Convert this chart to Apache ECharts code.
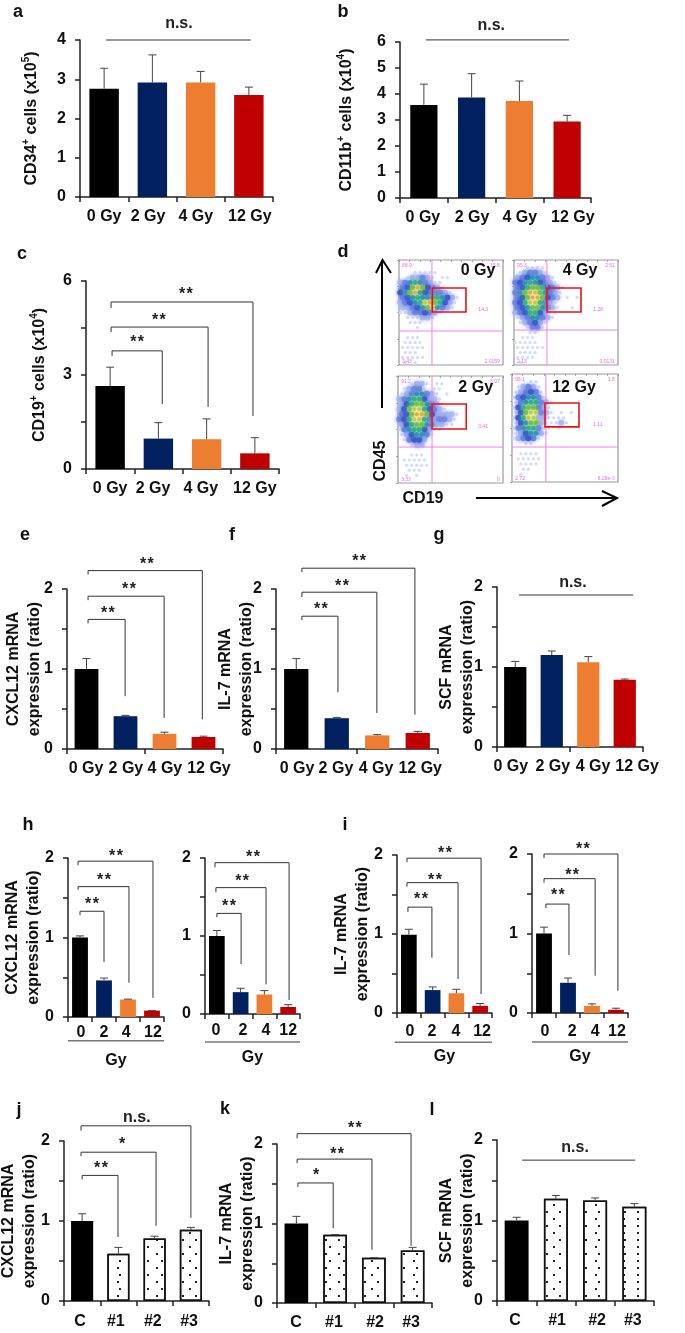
<!DOCTYPE html>
<html><head><meta charset="utf-8">
<style>html,body{margin:0;padding:0;background:#fff}#c{width:685px;height:1333px}</style>
<script src="https://cdn.jsdelivr.net/npm/echarts@6/dist/echarts.min.js"></script>
</head><body><div id="c"></div>
<script>
// ---------- categories ----------
const doseCats = ['0 Gy','2 Gy','4 Gy','12 Gy'];
const shortCats = ['0','2','4','12'];
const cloneCats = ['C','#1','#2','#3'];
// ---------- bar values and error-bar tops ----------
const aVals=[2.76,2.92,2.92,2.60], aErr=[3.28,3.62,3.20,2.80];
const bVals=[3.58,3.87,3.73,2.94], bErr=[4.38,4.78,4.50,3.18];
const cVals=[2.65,0.97,0.95,0.50], cErr=[3.25,1.48,1.60,1.00];
const eVals=[1.00,0.41,0.19,0.15], eErr=[1.13,0.42,0.21,0.16];
const fVals=[1.00,0.385,0.17,0.20], fErr=[1.13,0.395,0.18,0.22];
const gVals=[1.00,1.15,1.06,0.84], gErr=[1.07,1.20,1.13,0.85];
const h1Vals=[1.00,0.46,0.22,0.08], h1Err=[1.02,0.49,0.225,0.08];
const h2Vals=[1.00,0.28,0.25,0.09], h2Err=[1.07,0.33,0.30,0.12];
const i1Vals=[0.99,0.29,0.25,0.09], i1Err=[1.06,0.33,0.30,0.12];
const i2Vals=[1.00,0.38,0.09,0.04], i2Err=[1.08,0.44,0.115,0.06];
const jVals=[1.00,0.59,0.78,0.89], jErr=[1.09,0.67,0.81,0.92];
const kVals=[1.00,0.86,0.57,0.66], kErr=[1.09,0.86,0.57,0.70];
const lVals=[1.00,1.27,1.25,1.17], lErr=[1.04,1.31,1.28,1.21];
// ---------- significance brackets: [from,to,top,leftEnd,rightEnd,labelX,labelY,label] ----------
const aBr=[[0.54,3.54,4.0,4.0,4.0,2.05,4.43,'n.s.']];
const bBr=[[0.54,3.54,6.08,6.08,6.08,1.91,6.62,'n.s.']];
const cBr=[[0.54,1.58,3.77,3.61,2.07,1.06,4.12,'**'],[0.52,2.53,4.53,4.37,1.98,1.51,4.82,'**'],[0.52,3.46,5.33,5.14,1.69,2.07,5.65,'**']];
const eBr=[[0.54,1.49,1.62,1.57,0.66,1.05,1.73,'**'],[0.54,2.49,1.91,1.86,0.39,1.59,2.03,'**'],[0.54,3.47,2.23,2.18,0.37,2.05,2.34,'**']];
const fBr=[[0.64,1.53,1.66,1.61,0.71,1.11,1.78,'**'],[0.64,2.49,1.96,1.90,0.45,1.63,2.07,'**'],[0.64,3.43,2.26,2.21,0.43,2.05,2.38,'**']];
const gBr=[[0.60,3.73,1.90,1.90,1.90,2.08,2.06,'n.s.']];
const h1Br=[[0.50,1.50,1.33,1.28,0.69,1.00,1.45,'**'],[0.42,2.54,1.64,1.60,0.43,1.50,1.75,'**'],[0.42,3.54,1.96,1.91,0.24,2.00,2.06,'**'],[0,4,-0.30,-0.30,-0.30,2,-0.3,'']];
const h2Br=[[0.50,1.52,1.29,1.24,0.64,1.01,1.42,'**'],[0.46,2.57,1.62,1.56,0.38,1.56,1.73,'**'],[0.42,3.54,1.94,1.88,0.18,2.02,2.05,'**'],[0,4,-0.36,-0.36,-0.36,2,-0.36,'']];
const i1Br=[[0.46,1.47,1.34,1.28,0.70,1.01,1.47,'**'],[0.42,2.57,1.65,1.60,0.43,1.60,1.72,'**'],[0.42,3.54,1.96,1.91,0.24,2.02,2.05,'**'],[-0.1,4,-0.37,-0.37,-0.37,2,-0.37,'']];
const i2Br=[[0.58,1.54,1.37,1.32,0.73,1.08,1.52,'**'],[0.50,2.63,1.69,1.64,0.47,1.67,1.76,'**'],[0.50,3.58,2.00,1.95,0.28,2.12,2.09,'**'],[0,4,-0.365,-0.365,-0.365,2,-0.365,'']];
const jBr=[[0.50,1.49,1.57,1.52,0.80,1.02,1.69,'**'],[0.47,2.54,1.86,1.81,0.94,1.60,1.99,'*'],[0.47,3.50,2.19,2.13,1.04,2.01,2.29,'n.s.']];
const kBr=[[0.54,1.45,1.51,1.46,0.94,1.01,1.64,'*'],[0.52,2.45,1.81,1.76,0.67,1.55,1.91,'**'],[0.52,3.46,2.13,2.07,0.72,2.01,2.23,'**']];
const lBr=[[0.64,3.52,1.75,1.75,1.75,1.99,1.91,'n.s.']];
// ---------- where each x tick label sits, in category widths from the axis start ----------
const aLab=[.50,1.41,2.40,3.52], bLab=[.48,1.51,2.51,3.62], cLab=[.50,1.39,2.38,3.50];
const eLab=[.49,1.51,2.51,3.64], fLab=[.52,1.48,2.47,3.56], gLab=[.38,1.53,2.63,3.84];
const h1Lab=[.54,1.50,2.42,3.54], h2Lab=[.46,1.60,2.57,3.50], i1Lab=[.55,1.47,2.48,3.58], i2Lab=[.54,1.67,2.63,3.54];
const jLab=[.44,1.43,2.45,3.45], kLab=[.49,1.47,2.53,3.46], lLab=[.46,1.53,2.55,3.46];
// ---------- flow plots: density read per cell (rows top to bottom, 0-9) ----------
const flow0Gy=["000000000000000000000","000000000000000000000","000111110000000000000","012232101100000000000","235653211000000000000","347974321000000000000","457964333210000000000","345655665421000000000","234568976421000000000","223457853210000000000","112334321000000000000","011122100000000000000","001110000000000000000","000100000000000000000","000000000000000000000","011100000000000000000","011110000000000000000","111110000000000000000","011100000000000000000","111110000000000000000","010100000000000000000"];
const flow4Gy=["000000000000000000000","001111000000000000000","012332100000000000000","234553210000000000000","345654321000000000000","346776432100000000000","357987532100000000000","347997432010100000000","346886321000000000000","345775321001000000000","234664211000000000000","123553210000000000000","012342100000000000000","001331000000000000000","000110000000000000000","011100000000000000000","111110000000000000000","111111000000000000000","011110000000000000000","111100000000000000000","010000000000000000000"];
const flow2Gy=["000000000000000000000","001221011000000000000","012331011000000000000","123553210100000000000","235664221000000000000","246775321000000000000","247886432100000000000","347997422221000000000","346886323321000000000","246775322110000000000","135664211000000000000","124553100000000000000","013442000000000000000","001220000000000000000","000000000000000000000","001110000000000000000","011111000000000000000","011111000000000000000","001110000000000000000","010100000000000000000","000000000000000000000"];
const flow12Gy=["000000000000000000000","000110000000000000000","012321000000000000000","123431000000000000000","134553100000000000000","135663210000000000000","146773210000000000000","147883210101000000000","146882211110000000000","145772111210000000000","135663110100000000000","124552100000000000000","123431000000000000000","001100000000000000000","000000000000000000000","011110000000000000000","011111000000000000000","011110000000000000000","001100000000000000000","010000000000000000000","000000000000000000000"];
const flowLabels0=['68.9','15.8','14.3','3.43','2.0159'];
const flowLabels4=['95.3','2.51','1.28','2.13','0.0131'];
const flowLabels2=['91.2','3.07','3.41','3.33','0'];
const flowLabels12=['96.1','1.8','1.11','2.72','6.28e-3'];
// quadrant [vertical, horizontal], gate [x0,x1,y0,y1] in plot percent
const flowGates0=[31.7,67.6,32,64.4,26.7,49.5];
const flowGates4=[31.7,66.7,31.7,64.4,26.7,49.5];
const flowGates2=[32.4,66.4,32.4,65,26.2,49.5];
const flowGates12=[32,67.6,31.1,63.2,26.9,49];

// ---------- styling and layout ----------
const FF='"Liberation Sans",Arial,sans-serif';
const barColors=['#000000','#002060','#ed7d31','#c00000'];
const dotDecal={symbol:'rect',symbolSize:1,color:'#222',dashArrayX:[[1.6,11],[0,6.3,1.6,4.7]],dashArrayY:[1.6,4.7],rotation:0};
const levelColor=['#fff','#d2daf8','#a9b8f2','#6f86e6','#3a56cc','#2f8fb8','#2fae8a','#6cc04c','#c4cc35','#e6a92a'];
const levelSize=[0,3,6,6,6,5,5,5,4,4];

const barPanels=[
 {box:[80,40,193,157],cats:doseCats,labX:aLab,vals:aVals,errs:aErr,br:aBr,max:4,step:1,show:1,bw:'61%',xm:12,name:'CD34{s|+} cells (x10{s|5})',gap:38},
 {box:[400,42,191,156],cats:doseCats,labX:bLab,vals:bVals,errs:bErr,br:bBr,max:6,step:1,show:1,bw:'57%',xm:12,name:'CD11b{s|+} cells (x10{s|4})',gap:43},
 {box:[86,281,193,188],cats:doseCats,labX:cLab,vals:cVals,errs:cErr,br:cBr,max:6,step:1.5,show:3,bw:'61%',xm:12,name:'CD19{s|+} cells (x10{s|4})',gap:36},
 {box:[67,589,156,160],cats:doseCats,labX:eLab,vals:eVals,errs:eErr,br:eBr,max:2,step:.5,show:1,bw:'61%',xm:12,name:'CXCL12 mRNA\nexpression (ratio)',gap:22},
 {box:[276,589,162,160],cats:doseCats,labX:fLab,vals:fVals,errs:fErr,br:fBr,max:2,step:.5,show:1,bw:'60%',xm:12,name:'IL-7 mRNA\nexpression (ratio)',gap:19},
 {box:[497,587,146,160],cats:doseCats,labX:gLab,vals:gVals,errs:gErr,br:gBr,max:2,step:.5,show:1,bw:'61%',xm:12,name:'SCF mRNA\nexpression (ratio)',gap:19},
 {box:[68,858,96,159],cats:shortCats,labX:h1Lab,vals:h1Vals,errs:h1Err,br:h1Br,max:2,step:.5,show:1,bw:'66%',xm:8,name:'CXCL12 mRNA\nexpression (ratio)',gap:24,gy:true},
 {box:[205,858,95,156],cats:shortCats,labX:h2Lab,vals:h2Vals,errs:h2Err,br:h2Br,max:2,step:.5,show:1,bw:'66%',xm:9,name:'',gap:0,gy:true},
 {box:[397,855,95,158],cats:shortCats,labX:i1Lab,vals:i1Vals,errs:i1Err,br:i1Br,max:2,step:.5,show:1,bw:'66%',xm:11,name:'IL-7 mRNA\nexpression (ratio)',gap:24,gy:true},
 {box:[532,854,96,159],cats:shortCats,labX:i2Lab,vals:i2Vals,errs:i2Err,br:i2Br,max:2,step:.5,show:1,bw:'66%',xm:11,name:'',gap:0,gy:true},
 {box:[64,1141,145,160],cats:cloneCats,labX:jLab,vals:jVals,errs:jErr,br:jBr,max:2,step:.5,show:1,bw:'61%',xm:13,name:'CXCL12 mRNA\nexpression (ratio)',gap:24,dotted:true},
 {box:[277,1144,155,159],cats:cloneCats,labX:kLab,vals:kVals,errs:kErr,br:kBr,max:2,step:.5,show:1,bw:'61%',xm:12,name:'IL-7 mRNA\nexpression (ratio)',gap:19,dotted:true},
 {box:[497,1140,157,161],cats:cloneCats,labX:lLab,vals:lVals,errs:lErr,br:lBr,max:2,step:.5,show:1,bw:'61%',xm:12,name:'SCF mRNA\nexpression (ratio)',gap:19,dotted:true}
];
const flowPanels=[
 {box:[399,260,104,105],rows:flow0Gy,labels:flowLabels0,gate:flowGates0,dose:'0 Gy',dx:76,dy:10.5},
 {box:[514,260,104,105],rows:flow4Gy,labels:flowLabels4,gate:flowGates4,dose:'4 Gy',dx:63.5,dy:10.5},
 {box:[398,376,105,107],rows:flow2Gy,labels:flowLabels2,gate:flowGates2,dose:'2 Gy',dx:74,dy:11},
 {box:[512,374,106,108],rows:flow12Gy,labels:flowLabels12,gate:flowGates12,dose:'12 Gy',dx:58.5,dy:13}
];
const letters=[['a',18,12],['b',343,12],['c',22,254],['d',343,252],['e',25,535],['f',232,535],['g',439,535],['h',28,825],['i',345,825],['j',19,1110],['k',225,1109],['l',432,1110]];

const grid=[],xAxis=[],yAxis=[],series=[];
const boldText={fontFamily:FF,fontWeight:'bold',color:'#111'};
const axisStroke={color:'#222',width:1.5};

barPanels.forEach(p=>{
  const g=grid.length;
  grid.push({left:p.box[0],top:p.box[1],width:p.box[2],height:p.box[3],containLabel:false,outerBoundsMode:'none'});
  const xCat=xAxis.length;
  xAxis.push({type:'category',gridIndex:g,data:p.cats,boundaryGap:true,axisLine:{lineStyle:axisStroke},
    axisTick:{show:true,alignWithLabel:false,length:5,lineStyle:axisStroke},
    axisLabel:{show:false},
    name:p.gy?'Gy':'',nameLocation:'middle',nameGap:36,nameMoveOverlap:false,nameTextStyle:{...boldText,fontSize:16}});
  const xVal=xAxis.length;
  xAxis.push({type:'value',gridIndex:g,min:0,max:4,position:'bottom',axisLine:{show:false},axisTick:{show:false},splitLine:{show:false},
    axisLabel:{...boldText,fontSize:16,margin:p.xm,customValues:p.labX,showMinLabel:true,showMaxLabel:true,
      formatter:v=>p.cats[p.labX.indexOf(v)]}});
  const yI=yAxis.length;
  yAxis.push({type:'value',gridIndex:g,min:0,max:p.max,interval:p.step,splitLine:{show:false},
    axisLine:{show:true,lineStyle:axisStroke},
    axisTick:{show:true,length:5,lineStyle:axisStroke},
    axisLabel:{...boldText,fontSize:16,margin:14,showMinLabel:true,showMaxLabel:true,
      formatter:v=>Number.isInteger(v/p.show)?String(v):''},
    name:p.name,nameLocation:'middle',nameGap:p.gap,nameRotate:90,nameMoveOverlap:false,
    nameTextStyle:{...boldText,fontSize:16,lineHeight:21,rich:{s:{fontFamily:FF,fontWeight:'bold',fontSize:10,color:'#111',verticalAlign:'top',lineHeight:21}}}});
  series.push({type:'bar',xAxisIndex:xCat,yAxisIndex:yI,barWidth:p.bw,silent:true,animation:false,
    data:p.vals.map((v,i)=>{
      if(p.dotted&&i>0) return {value:v,itemStyle:{color:'#fff',borderColor:'#111',borderWidth:1.5,decal:dotDecal}};
      return {value:v,itemStyle:{color:p.dotted?'#000':barColors[i]}};
    })});
  series.push({type:'custom',xAxisIndex:xCat,yAxisIndex:yI,silent:true,animation:false,z:3,clip:false,
    data:p.vals.map((v,i)=>[i,v,p.errs[i]]),encode:{x:0,y:[1,2]},
    renderItem:(ps,api)=>{
      const a=api.coord([api.value(0),api.value(1)]),b=api.coord([api.value(0),api.value(2)]);
      const st={stroke:'#444',lineWidth:1,fill:null};
      return {type:'group',children:[
        {type:'line',shape:{x1:a[0],y1:a[1],x2:b[0],y2:b[1]},style:st},
        {type:'line',shape:{x1:b[0]-4,y1:b[1],x2:b[0]+4,y2:b[1]},style:st}]};
    }});
  series.push({type:'custom',xAxisIndex:xVal,yAxisIndex:yI,silent:true,animation:false,z:4,clip:false,
    data:p.br.map(b=>b.slice(0,7)),encode:{x:[0,1],y:[2,3,4]},
    renderItem:(ps,api)=>{
      const b=p.br[ps.dataIndex];
      const pts=[[b[0],b[3]],[b[0],b[2]],[b[1],b[2]],[b[1],b[4]]].map(q=>api.coord(q));
      const kids=[{type:'polyline',shape:{points:pts},style:{stroke:b[7]===''?'#777':'#333',lineWidth:b[7]===''?1.5:1,fill:null}}];
      if(b[7]){
        const c=api.coord([b[5],b[6]]);
        const star=b[7].indexOf('*')===0;
        kids.push({type:'text',style:{text:star?b[7].split('').join('\u200a'):b[7],x:c[0],y:c[1]+(star?3:0),fill:'#222',
          font:'bold 16px '+FF,align:'center',verticalAlign:'middle',textAlign:'center',textVerticalAlign:'middle'}});
      }
      return {type:'group',children:kids};
    }});
});

flowPanels.forEach(p=>{
  const g=grid.length;
  grid.push({left:p.box[0],top:p.box[1],width:p.box[2],height:p.box[3],show:true,borderColor:'#999',borderWidth:1.2,backgroundColor:'#fff',containLabel:false,outerBoundsMode:'none'});
  const xI=xAxis.length,yI=yAxis.length;
  const tick={show:true,length:2,lineStyle:{color:'#888',width:.7}};
  xAxis.push({type:'value',gridIndex:g,min:0,max:100,interval:10,axisLine:{show:false},axisTick:tick,axisLabel:{show:false},splitLine:{show:false}});
  yAxis.push({type:'value',gridIndex:g,min:0,max:100,interval:25,inverse:true,axisLine:{show:false},axisTick:tick,axisLabel:{show:false},splitLine:{show:false}});
  const cells=[];
  p.rows.forEach((row,r)=>row.split('').forEach((ch,c)=>{const d=+ch;if(d>0)cells.push([(c+.5+(r%2?.25:-.25))/21*100,(r+.5)/21*100,d]);}));
  cells.sort((a,b)=>a[2]-b[2]);
  series.push({type:'scatter',xAxisIndex:xI,yAxisIndex:yI,silent:true,animation:false,large:false,clip:true,
    data:cells.map(v=>({value:v,symbolSize:levelSize[v[2]],itemStyle:{color:levelColor[v[2]],shadowColor:levelColor[v[2]],shadowBlur:v[2]>1?4:1,opacity:v[2]>1?.92:.8,borderWidth:0}}))});
  series.push({type:'custom',xAxisIndex:xI,yAxisIndex:yI,silent:true,animation:false,z:5,clip:false,
    data:[[0,0]],encode:{x:0,y:1},
    renderItem:(ps,api)=>{
      const q=p.gate,P=(x,y)=>api.coord([x,y]);
      const pink={stroke:'#ee82ee',lineWidth:1,fill:null};
      const txt=(t,x,y,al)=>{const c=P(x,y);return {type:'text',style:{text:t,x:c[0],y:c[1],fill:'#e46ce4',font:'5px '+FF,align:al,verticalAlign:'middle',textAlign:al,textVerticalAlign:'middle'}};};
      const v0=P(q[0],0),v1=P(q[0],100),h0=P(0,q[1]),h1=P(100,q[1]);
      const r0=P(q[2],q[4]),r1=P(q[3],q[5]);
      const d=P(p.dx,p.dy);
      return {type:'group',children:[
        {type:'line',shape:{x1:v0[0],y1:v0[1],x2:v1[0],y2:v1[1]},style:pink},
        {type:'line',shape:{x1:h0[0],y1:h0[1],x2:h1[0],y2:h1[1]},style:pink},
        {type:'rect',shape:{x:r0[0],y:r0[1],width:r1[0]-r0[0],height:r1[1]-r0[1]},style:{stroke:'#f01010',lineWidth:1.6,fill:null}},
        txt(p.labels[0],3,5,'left'),txt(p.labels[1],97,5,'right'),txt(p.labels[2],81,47,'center'),txt(p.labels[3],3,97,'left'),txt(p.labels[4],97,97,'right'),
        {type:'text',style:{text:p.dose,x:d[0],y:d[1],fill:'#111',font:'bold 16px '+FF,align:'center',verticalAlign:'middle',textAlign:'center',textVerticalAlign:'middle'}}
      ]};
    }});
});

const graphic=[
  ...letters.map(l=>({type:'text',x:l[1],y:l[2],style:{text:l[0],fill:'#111',font:'bold 18px '+FF,align:'center',verticalAlign:'middle'}})),
  {type:'polyline',shape:{points:[[382,408],[382,262]]},style:{stroke:'#000',lineWidth:2,fill:null}},
  {type:'polyline',shape:{points:[[376,273],[382.5,260],[391,273]]},style:{stroke:'#000',lineWidth:2,fill:null}},
  {type:'polyline',shape:{points:[[476,498],[616,498]]},style:{stroke:'#000',lineWidth:2,fill:null}},
  {type:'polyline',shape:{points:[[602,491],[617,498],[602,506]]},style:{stroke:'#000',lineWidth:2,fill:null}},
  {type:'text',x:381,y:461,rotation:Math.PI/2,style:{text:'CD45',fill:'#111',font:'bold 16px '+FF,align:'center',verticalAlign:'middle'}},
  {type:'text',x:423,y:499,style:{text:'CD19',fill:'#111',font:'bold 16px '+FF,align:'center',verticalAlign:'middle'}}
];

const chart=echarts.init(document.getElementById('c'),null,{renderer:'canvas'});
chart.setOption({animation:false,backgroundColor:'#fff',grid,xAxis,yAxis,series,graphic,tooltip:{show:false}});
</script></body></html>
